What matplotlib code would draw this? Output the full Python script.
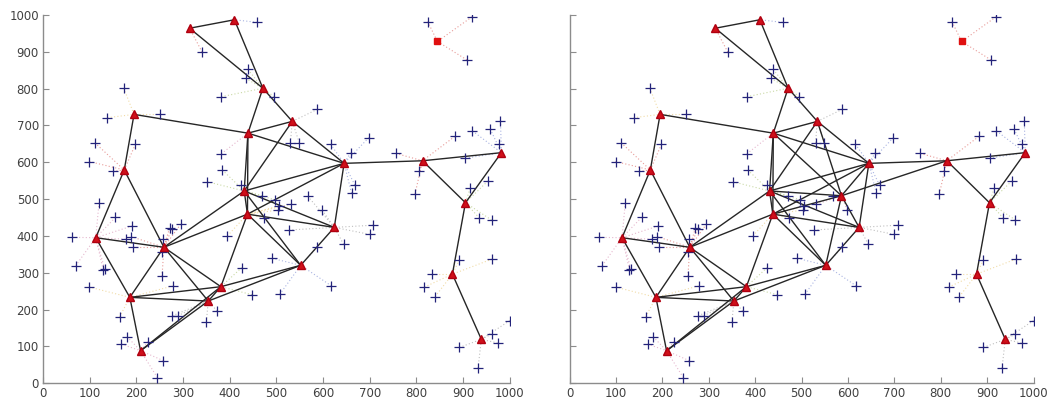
import numpy as np
import matplotlib
matplotlib.use("Agg")
import matplotlib.pyplot as plt

# cluster heads (red triangles)
head_x = [314, 410, 471, 195, 534, 439, 174, 645, 431, 438, 624, 113, 259, 552,
          381, 186, 354, 209, 813, 982, 905, 877, 939]
head_y = [964, 987, 801, 730, 711, 679, 579, 597, 522, 459, 423, 395, 369, 320,
          262, 233, 223, 88, 604, 626, 490, 296, 119]

# extra head that only appears in the right panel
extra_x = [586]
extra_y = [509]

# isolated node (red square)
sink_x = [845]
sink_y = [928]

# ordinary nodes (+) and the head each one links to (-1 = the square)
sensor_x = [459, 341, 439, 434, 382, 495, 173, 138, 251, 588,
            111, 198, 99, 150, 382, 384, 352, 425, 530, 549,
            616, 659, 668, 661, 698, 120, 155, 191, 189, 177,
            193, 63, 70, 129, 132, 99, 257, 271, 276, 295,
            255, 255, 278, 277, 289, 350, 373, 164, 180, 168,
            225, 258, 245, 395, 426, 448, 507, 491, 470, 497,
            505, 503, 532, 473, 567, 598, 527, 587, 644, 618,
            707, 700, 824, 919, 908, 756, 806, 797, 882, 905,
            920, 958, 980, 976, 953, 915, 935, 961, 892, 962,
            833, 817, 840, 1000, 961, 974, 892, 932]
sensor_y = [980, 899, 852, 828, 778, 778, 801, 721, 730, 744,
            653, 649, 602, 575, 623, 579, 547, 538, 653, 653,
            649, 626, 538, 516, 667, 490, 450, 427, 398, 391,
            369, 396, 319, 308, 311, 261, 392, 421, 418, 432,
            355, 290, 264, 183, 183, 167, 196, 180, 126, 106,
            113, 61, 15, 400, 314, 240, 241, 339, 509, 498,
            481, 470, 486, 449, 508, 470, 416, 369, 377, 264,
            429, 404, 982, 995, 878, 624, 575, 514, 670, 611,
            685, 690, 713, 650, 549, 529, 448, 443, 335, 337,
            296, 261, 235, 170, 133, 109, 97, 41]
link_left = [1, 0, 2, 2, 2, 2, 3, 3, 3, 4,
             6, 6, 6, 6, 5, 8, 8, 8, 4, 4,
             7, 7, 7, 7, 7, 11, 11, 11, 12, 11,
             12, 11, 11, 11, 11, 15, 12, 12, 12, 12,
             12, 12, 15, 16, 16, 16, 16, 15, 17, 17,
             17, 17, 17, 9, 14, 14, 13, 13, 8, 8,
             9, 9, 9, 9, 10, 10, 10, 13, 10, 13,
             10, 10, -1, -1, -1, 18, 18, 18, 18, 19,
             19, 19, 19, 19, 20, 20, 20, 20, 21, 21,
             21, 21, 21, 22, 22, 22, 22, 22]
link_right = list(link_left)
link_right[62] = 23
link_right[64] = 23
link_right[65] = 23

# head-to-head links
edges_left = [(0, 1), (0, 2), (1, 2), (2, 4), (2, 5), (3, 5), (3, 6), (5, 4),
              (5, 7), (4, 7), (5, 8), (5, 9), (4, 8), (7, 8), (7, 9), (7, 10),
              (7, 18), (8, 10), (8, 13), (9, 10), (9, 13), (8, 12), (9, 12),
              (9, 14), (8, 9), (6, 11), (6, 12), (11, 12), (11, 15), (12, 15),
              (12, 16), (12, 14), (15, 14), (15, 16), (15, 17), (17, 16),
              (17, 14), (16, 13), (14, 13), (13, 10), (16, 14), (18, 19),
              (18, 20), (19, 20), (20, 21), (21, 22)]
edges_right = edges_left + [(23, 5), (23, 4), (23, 7), (23, 8), (23, 9),
                            (23, 10), (23, 13), (23, 18)]

link_colors = ["#e07a76", "#8c9ad8", "#b8cc88", "#ecd08a", "#ababab", "#dda0be"]


def draw_panel(ax, hx, hy, links, edges, show_ylabels):
    # dotted links from ordinary nodes to their head
    for i, (sx, sy) in enumerate(zip(sensor_x, sensor_y)):
        h = links[i]
        if h < 0:
            tx, ty = sink_x[0], sink_y[0]
            c = link_colors[0]
        else:
            tx, ty = hx[h], hy[h]
            c = link_colors[h % len(link_colors)]
        ax.plot([sx, tx], [sy, ty], linestyle=(0, (1, 2)), color=c,
                linewidth=0.8, alpha=0.75, zorder=1)

    for a, b in edges:
        ax.plot([hx[a], hx[b]], [hy[a], hy[b]], color="#262626",
                linewidth=1.0, zorder=2)

    ax.plot(sensor_x, sensor_y, linestyle="none", marker="+", markersize=7.5,
            markeredgewidth=0.9, color="#23237a", zorder=3)
    ax.plot(hx, hy, linestyle="none", marker="^", markersize=6,
            color="#d0101a", markeredgecolor="#b00010", zorder=4)
    ax.plot(sink_x, sink_y, linestyle="none", marker="s", markersize=4.5,
            color="#e01010", zorder=4)

    ax.set_xlim(0, 1000)
    ax.set_ylim(0, 1000)
    ax.set_xticks(np.arange(0, 1001, 100))
    ax.set_yticks(np.arange(0, 1001, 100))
    ax.tick_params(direction="in", length=4, color="#8c8c8c",
                   labelcolor="#404040", labelsize=8.5, pad=3)
    if not show_ylabels:
        ax.set_yticklabels([])
    for s in ["top", "right"]:
        ax.spines[s].set_visible(False)
    for s in ["left", "bottom"]:
        ax.spines[s].set_color("#8c8c8c")
        ax.spines[s].set_linewidth(1.0)


fig = plt.figure(figsize=(10.49, 4.05), dpi=100)
ax1 = fig.add_axes([0.041, 0.054, 0.445, 0.909])
ax2 = fig.add_axes([0.543, 0.054, 0.4423, 0.909])

draw_panel(ax1, head_x, head_y, link_left, edges_left, True)
draw_panel(ax2, head_x + extra_x, head_y + extra_y, link_right, edges_right, False)

fig.savefig("out.png", dpi=100)
